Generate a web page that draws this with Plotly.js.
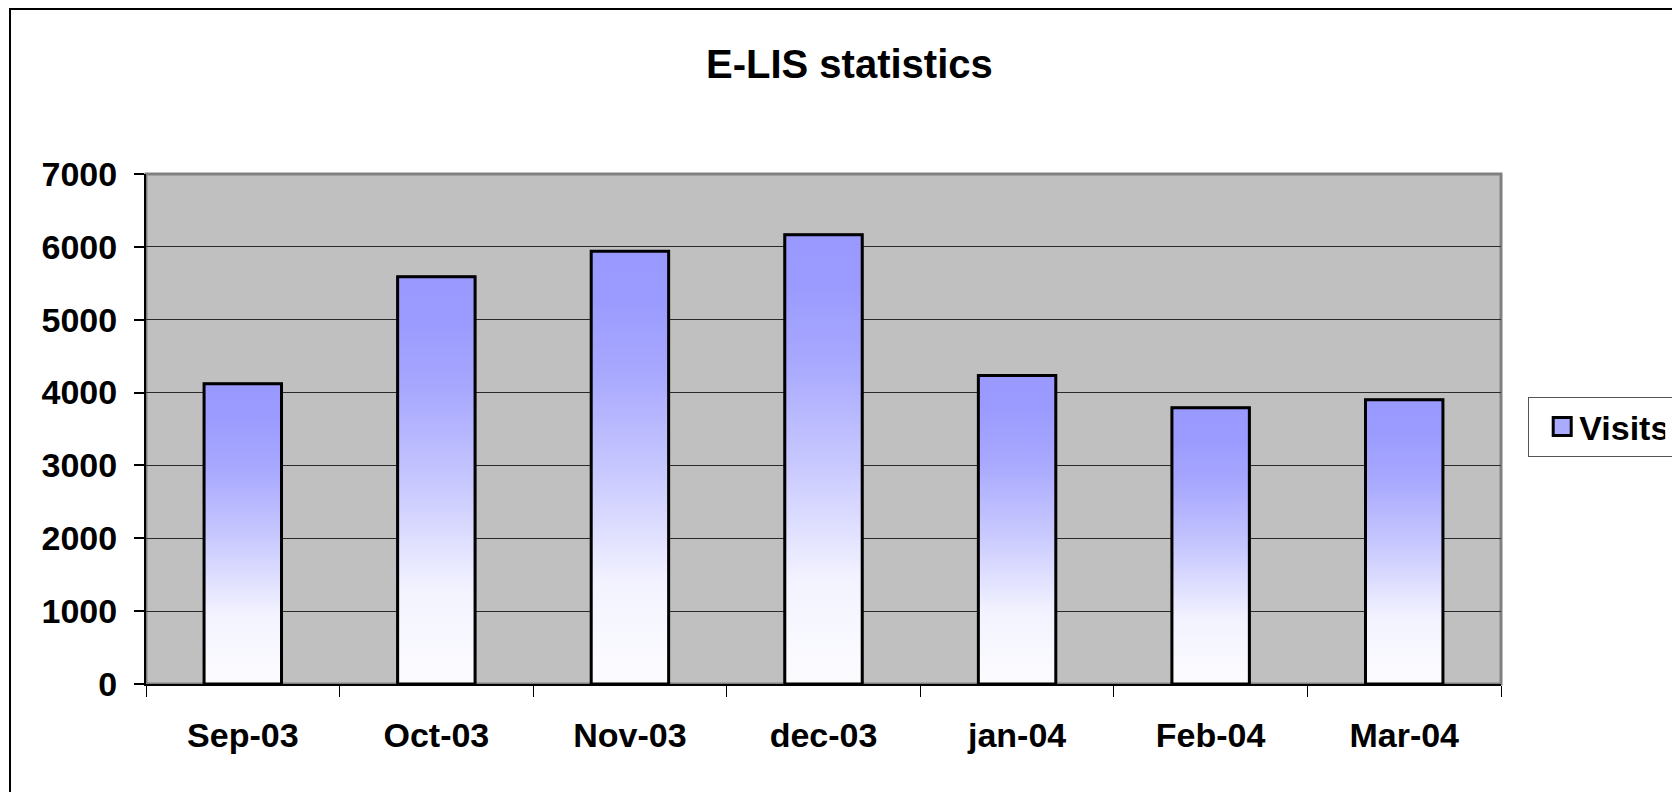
<!DOCTYPE html>
<html>
<head>
<meta charset="utf-8">
<script src="https://cdn.plot.ly/plotly-3.0.1.min.js"></script>
<style>
  html, body { margin: 0; padding: 0; background: #ffffff; overflow: hidden; }
  #chart { width: 1672px; height: 792px; }
  #frame { position: absolute; left: 9px; top: 8px; width: 3000px; height: 3000px;
           border-left: 2px solid #000; border-top: 2px solid #000; pointer-events: none; }
  .legendpoints path { transform-box: fill-box; transform-origin: center; scale: 1.5; translate: 3px 0; }
  .legendtext { translate: 10px 0; }
  .legend rect.bg { width: 200px; }
</style>
</head>
<body>
<div id="chart"></div>
<div id="frame"></div>
<script>
// ---- data ----
const categories = ["Sep-03", "Oct-03", "Nov-03", "dec-03", "jan-04", "Feb-04", "Mar-04"];
const visits = [4120, 5590, 5940, 6165, 4235, 3790, 3900];
const seriesName = "Visits";
const yTicks = [0, 1000, 2000, 3000, 4000, 5000, 6000, 7000];

// ---- styling ----
const FONT = "'Liberation Sans', Arial, sans-serif";
const barWidth = 0.4;
const gradient = [
  [0, "#fcfcff"], [0.23, "#f3f3ff"], [0.49, "#c8c8ff"],
  [0.72, "#a8a8ff"], [0.9, "#9a9aff"], [1, "#9999ff"]
];

const idx = categories.map((_, i) => i);

const traces = [{
  type: "bar",
  x: idx,
  y: visits,
  width: barWidth,
  name: seriesName,
  marker: { color: "#aaaaff", line: { color: "#000000", width: 2 } },
  hovertemplate: "%{text}: %{y}<extra></extra>",
  text: categories,
  textposition: "none",
  showlegend: true
}];

// gradient overlay for each bar, built from the data arrays
visits.forEach((v, i) => {
  const x0 = i - barWidth / 2, x1 = i + barWidth / 2;
  traces.push({
    type: "scatter",
    mode: "lines",
    x: [x0, x0, x1, x1, x0],
    y: [0, v, v, 0, 0],
    fill: "toself",
    fillgradient: { type: "vertical", colorscale: gradient },
    line: { color: "#000000", width: 3 },
    hoverinfo: "skip",
    showlegend: false
  });
});

const layout = {
  width: 1672,
  height: 792,
  margin: { l: 146, r: 171, t: 174, b: 108 },
  paper_bgcolor: "#ffffff",
  plot_bgcolor: "#c0c0c0",
  font: { family: FONT, size: 34, color: "#000000", weight: "bold" },
  title: {
    text: "E-LIS statistics",
    font: { family: FONT, size: 40, color: "#000000", weight: "bold" },
    x: 0.508, xref: "container", xanchor: "center",
    y: 0.919, yref: "container", yanchor: "middle"
  },
  showlegend: true,
  legend: {
    xref: "container", yref: "container",
    x: 0.914, xanchor: "left",
    y: 0.499, yanchor: "top",
    bgcolor: "#ffffff",
    bordercolor: "#555555",
    borderwidth: 1,
    font: { family: FONT, size: 34, color: "#000000", weight: "bold" }
  },
  xaxis: {
    type: "linear",
    range: [-0.5, categories.length - 0.5],
    tickmode: "array",
    tickvals: idx,
    ticktext: categories,
    ticks: "",
    ticklabelstandoff: 20,
    showgrid: false,
    zeroline: false,
    showline: true,
    linecolor: "#000000",
    linewidth: 2,
    minor: {
      tickmode: "array",
      tickvals: categories.map((_, i) => i - 0.5).concat([categories.length - 0.5]),
      ticks: "outside",
      ticklen: 11,
      tickwidth: 1,
      tickcolor: "#000000",
      showgrid: false
    },
    fixedrange: true
  },
  yaxis: {
    range: [0, 7000],
    tickmode: "array",
    tickvals: yTicks,
    ticktext: yTicks.map(String),
    ticks: "outside",
    ticklen: 10,
    tickwidth: 1.5,
    tickcolor: "#000000",
    ticklabelstandoff: 10,
    showgrid: true,
    gridcolor: "#2a2a2a",
    gridwidth: 1,
    zeroline: false,
    showline: true,
    linecolor: "#000000",
    linewidth: 2,
    fixedrange: true
  },
  shapes: [{
    type: "rect", xref: "paper", yref: "paper",
    x0: 0, x1: 1, y0: 0, y1: 1,
    line: { color: "#808080", width: 3 },
    fillcolor: "rgba(0,0,0,0)",
    layer: "below"
  }]
};

Plotly.newPlot("chart", traces, layout, { displayModeBar: false, responsive: false });
</script>
</body>
</html>
